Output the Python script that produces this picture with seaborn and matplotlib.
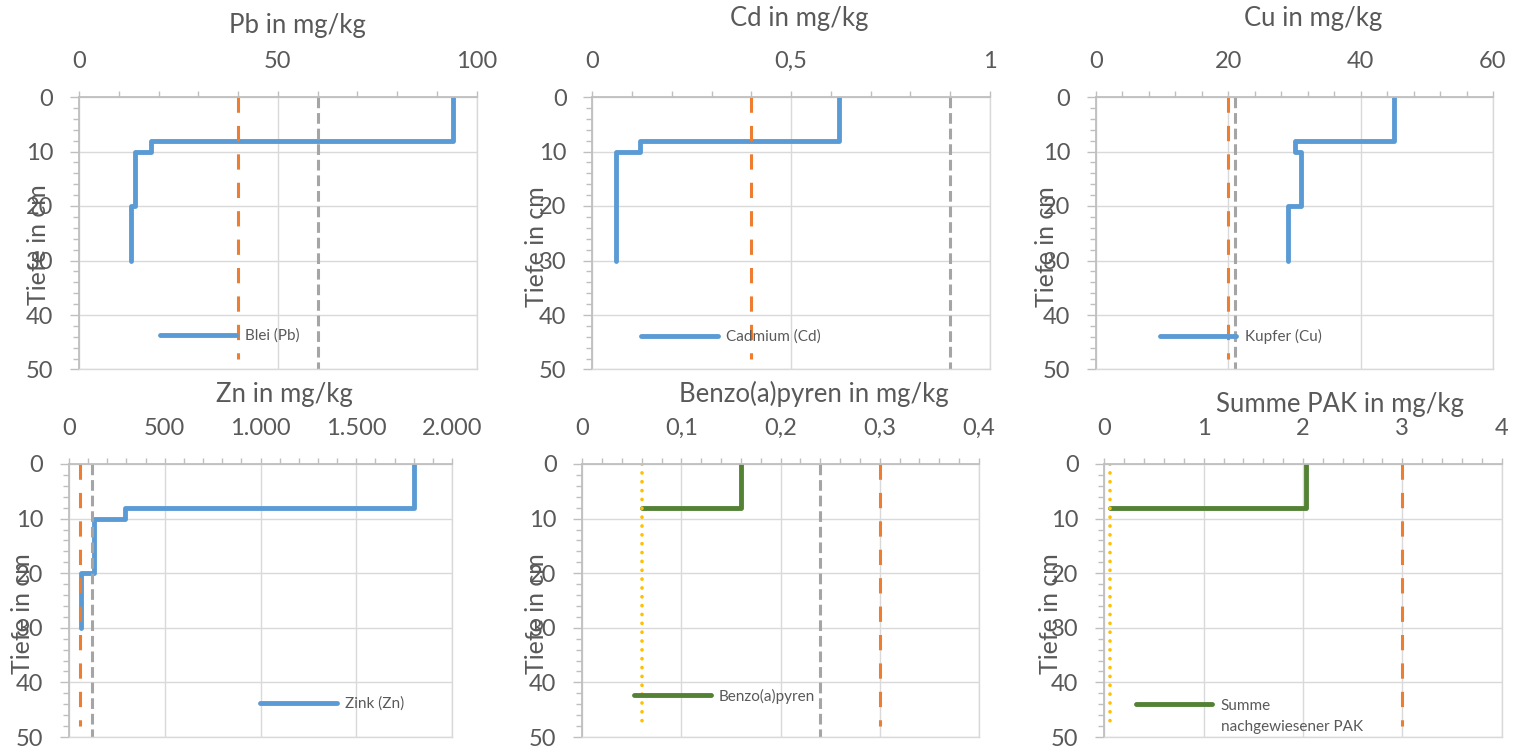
import numpy as np
import seaborn as sns
import matplotlib.pyplot as plt
from matplotlib.ticker import MultipleLocator, FuncFormatter

# layer boundaries (cm) and measured values per layer
depth_bounds = [0, 8, 10, 20, 30]
pb_vals = [94, 18, 14, 13]
cd_vals = [0.62, 0.12, 0.06, 0.06]
cu_vals = [45, 30, 31, 29]
zn_vals = [1800, 290, 130, 63]
bap_bounds = [0, 8, 8]
bap_vals = [0.16, 0.06]
pak_bounds = [0, 8, 8]
pak_vals = [2.03, 0.06]

# threshold / reference values
pb_orange, pb_gray = 40, 60
cd_orange, cd_gray = 0.4, 0.9
cu_orange, cu_gray = 20, 21
zn_orange, zn_gray = 60, 120
bap_yellow, bap_gray, bap_orange = 0.06, 0.24, 0.3
pak_yellow, pak_orange = 0.06, 3

BLUE = "#5b9bd5"
GREEN = "#548235"
ORANGE = "#ed7d31"
GRAY = "#a5a5a5"
YELLOW = "#ffc000"
TXT = "#595959"

sns.set_style("white")
plt.rcParams['font.family'] = ['Lato', 'DejaVu Sans']

W, H = 1514, 747
fig = plt.figure(figsize=(W / 100, H / 100), dpi=100)


def step_profile(bounds, vals):
    xs, ys = [], []
    for i, v in enumerate(vals):
        xs += [v, v]
        ys += [bounds[i], bounds[i + 1]]
    return xs, ys


def de_fmt(v, pos):
    if abs(v - round(v)) < 1e-9:
        return f"{int(round(v)):,}".replace(",", ".")
    return f"{v:g}".replace(".", ",")


def make_ax(x0, x1, y0, y1, xmax, major, minor):
    ax = fig.add_axes([x0 / W, 1 - y1 / H, (x1 - x0) / W, (y1 - y0) / H])
    ax.set_xlim(0, xmax)
    ax.set_ylim(50, 0)
    ax.xaxis.tick_top()
    ax.xaxis.set_major_locator(MultipleLocator(major))
    ax.xaxis.set_minor_locator(MultipleLocator(minor))
    ax.yaxis.set_major_locator(MultipleLocator(10))
    ax.yaxis.set_minor_locator(MultipleLocator(2))
    ax.xaxis.set_major_formatter(FuncFormatter(de_fmt))
    ax.grid(True, which="major", color="#d9d9d9", lw=1)
    ax.set_axisbelow(True)
    for s in ["top", "left"]:
        ax.spines[s].set_color("#bfbfbf")
        ax.spines[s].set_linewidth(1.3)
    for s in ["bottom", "right"]:
        ax.spines[s].set_color("#d9d9d9")
        ax.spines[s].set_linewidth(1)
    ax.tick_params(axis="x", which="both", top=True, bottom=False, length=4,
                   width=1, color="#bfbfbf", labelsize=17, labelcolor=TXT, pad=14)
    ax.tick_params(axis="y", which="major", left=True, length=6.5, width=1,
                   color="#bfbfbf", labelsize=17, labelcolor=TXT, pad=12)
    ax.tick_params(axis="y", which="minor", left=True, length=4, width=1,
                   color="#bfbfbf")
    return ax


DASH_O = (0, (5, 4.3))
DASH_G = (0, (3.5, 1.6))
DOT_Y = (0, (0.05, 2.4))

panels = [
    dict(box=(79, 476.5, 97, 369.5), xmax=100, major=50, minor=10,
         prof=step_profile(depth_bounds, pb_vals), color=BLUE, label="Blei (Pb)",
         leg=(0.204, 0.124), title="Pb in mg/kg", tpos=(297, 33), ypos=(38, 245),
         refs=[(pb_orange, ORANGE, DASH_O, 48), (pb_gray, GRAY, DASH_G, 50)]),
    dict(box=(592.3, 990, 97, 369.5), xmax=1, major=0.5, minor=0.1,
         prof=step_profile(depth_bounds, cd_vals), color=BLUE, label="Cadmium (Cd)",
         leg=(0.123, 0.12), title="Cd in mg/kg", tpos=(799, 26), ypos=(537, 247),
         refs=[(cd_orange, ORANGE, DASH_O, 48), (cd_gray, GRAY, DASH_G, 50)]),
    dict(box=(1096, 1493, 97, 369.5), xmax=60, major=20, minor=4,
         prof=step_profile(depth_bounds, cu_vals), color=BLUE, label="Kupfer (Cu)",
         leg=(0.161, 0.12), title="Cu in mg/kg", tpos=(1313, 26), ypos=(1047, 247),
         refs=[(cu_orange, ORANGE, DASH_O, 48), (cu_gray, GRAY, DASH_G, 50)]),
    dict(box=(69, 452, 464, 737), xmax=2000, major=500, minor=100,
         prof=step_profile(depth_bounds, zn_vals), color=BLUE, label="Zink (Zn)",
         leg=(0.499, 0.121), title="Zn in mg/kg", tpos=(284, 402), ypos=(23, 614),
         refs=[(zn_orange, ORANGE, DASH_O, 48), (zn_gray, GRAY, DASH_G, 50)]),
    dict(box=(582.3, 979, 464, 737), xmax=0.4, major=0.1, minor=0.02,
         prof=step_profile(bap_bounds, bap_vals), color=GREEN, label="Benzo(a)pyren",
         leg=(0.131, 0.15), title="Benzo(a)pyren in mg/kg", tpos=(814, 402), ypos=(537, 614),
         refs=[(bap_yellow, YELLOW, DOT_Y, 48), (bap_gray, GRAY, DASH_G, 50),
               (bap_orange, ORANGE, DASH_O, 48)]),
    dict(box=(1104.3, 1501.7, 464, 737), xmax=4, major=1, minor=0.2,
         prof=step_profile(pak_bounds, pak_vals), color=GREEN, label="Summe",
         leg=(0.08, 0.115), title="Summe PAK in mg/kg", tpos=(1340, 412), ypos=(1050, 614),
         refs=[(pak_yellow, YELLOW, DOT_Y, 48), (pak_orange, ORANGE, DASH_O, 48)]),
]

for p in panels:
    x0, x1, y0, y1 = p["box"]
    ax = make_ax(x0, x1, y0, y1, p["xmax"], p["major"], p["minor"])
    xs, ys = p["prof"]
    sns.lineplot(x=xs, y=ys, ax=ax, color=p["color"], linewidth=3.5,
                 estimator=None, sort=False, legend=False)
    prof_line = ax.lines[-1]
    prof_line.set_solid_capstyle("round")
    prof_line.set_solid_joinstyle("round")
    for val, col, ls, ymax in p["refs"]:
        ax.plot([val, val], [0, ymax], color=col, linestyle=ls,
                linewidth=2.2 if col != YELLOW else 2.6,
                dash_capstyle="round" if col == YELLOW else "butt")
    ax.legend(handles=[prof_line], labels=[p["label"]], loc="center left",
              bbox_to_anchor=p["leg"], frameon=False, fontsize=11,
              labelcolor=TXT, handlelength=5.0, handletextpad=0.55,
              borderpad=0, borderaxespad=0)
    ax.set_xlabel("")
    ax.set_ylabel("")
    tx, ty = p["tpos"]
    fig.text(tx / W, 1 - ty / H, p["title"], ha="center", va="baseline",
             fontsize=18.5, color=TXT)
    lx, ly = p["ypos"]
    fig.text(lx / W, 1 - ly / H, "Tiefe in cm", rotation=90, ha="center",
             va="center", fontsize=18, color=TXT)

# second line of the PAK legend label
fig.text(1221 / W, 1 - 727 / H, "nachgewiesener PAK", ha="left", va="center",
         fontsize=11, color=TXT)

fig.savefig("out.png", dpi=100)
